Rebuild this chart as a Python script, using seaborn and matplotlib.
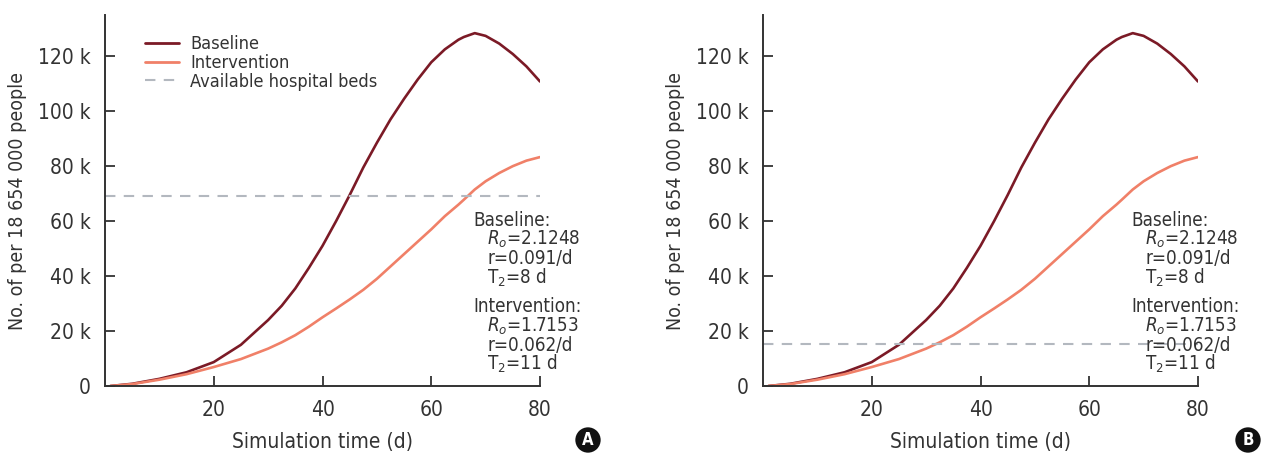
import numpy as np
import pandas as pd
import matplotlib
matplotlib.use("Agg")
import matplotlib.pyplot as plt
import seaborn as sns
from matplotlib.lines import Line2D
from matplotlib import font_manager

# ---- data (values in people) ----
days = [1, 5, 10, 15, 20, 25, 30, 32.5, 35, 37.5, 40, 42.5, 45, 47.5, 50, 52.5, 55,
        57.5, 60, 62.5, 65, 66, 68, 70, 72.5, 75, 77.5, 80]
baseline_k = [0, 0.8, 2.6, 5.0, 8.7, 15.0, 24.0, 29.2, 35.5, 43.0, 51.0, 60.0, 69.5,
              79.5, 88.5, 97.0, 104.5, 111.5, 117.8, 122.5, 126.0, 127.0, 128.4, 127.4,
              124.6, 120.8, 116.3, 110.8]
intervention_k = [0, 0.7, 2.3, 4.3, 6.9, 9.8, 13.6, 15.9, 18.5, 21.6, 25.0, 28.2, 31.5,
                  35.0, 39.0, 43.5, 48.0, 52.5, 57.0, 61.8, 66.0, 67.8, 71.5, 74.5,
                  77.5, 80.0, 82.0, 83.3]
beds = [69000, 15200]          # available hospital beds, panel A / B
panel_tags = ["A", "B"]
series_names = ["Baseline", "Intervention"]
y_ticks = [0, 20000, 40000, 60000, 80000, 100000, 120000]
y_tick_labels = ["0", "20 k", "40 k", "60 k", "80 k", "100 k", "120 k"]
x_ticks = [20, 40, 60, 80]
note_lines = [
    ("Baseline:", 0),
    (r"$\mathit{R_o}$=2.1248", 1),
    ("r=0.091/d", 1),
    (r"T$_2$=8 d", 1),
    ("Intervention:", 0),
    (r"$\mathit{R_o}$=1.7153", 1),
    ("r=0.062/d", 1),
    (r"T$_2$=11 d", 1),
]

df = pd.DataFrame({
    "day": days * 2,
    "value": [v * 1000 for v in baseline_k] + [v * 1000 for v in intervention_k],
    "scenario": [series_names[0]] * len(days) + [series_names[1]] * len(days),
})

# ---- style ----
sns.set_theme(style="ticks")
names = {f.name for f in font_manager.fontManager.ttflist}
fam = "Liberation Sans Narrow" if "Liberation Sans Narrow" in names else "DejaVu Sans"
plt.rcParams["font.family"] = [fam, "DejaVu Sans"]
plt.rcParams["font.stretch"] = "condensed"
plt.rcParams["mathtext.fontset"] = "custom"
plt.rcParams["mathtext.rm"] = fam + ":stretch=condensed"
plt.rcParams["mathtext.it"] = fam + ":italic:stretch=condensed"
TXT = "#333333"
palette = {"Baseline": "#7b1a26", "Intervention": "#f08068"}
BED_COLOR = "#b3b8bf"

fig = plt.figure(figsize=(12.66, 4.57), dpi=100)
lefts = [105 / 1266, 763 / 1266]
W, B, H = 435 / 1266, 71 / 457, 371 / 457

for i, left in enumerate(lefts):
    ax = fig.add_axes([left, B, W, H])
    sns.lineplot(data=df, x="day", y="value", hue="scenario", palette=palette,
                 linewidth=1.9, ax=ax, legend=False)
    ax.axhline(beds[i], color=BED_COLOR, lw=1.5, ls=(0, (5, 4)))
    ax.set_xlim(0, 80)
    ax.set_ylim(0, 135000)
    ax.set_xticks(x_ticks)
    ax.set_yticks(y_ticks)
    ax.set_yticklabels(y_tick_labels)
    ax.tick_params(direction="in", length=7, width=1.3, colors="#333333",
                   labelsize=15, labelcolor=TXT, pad=10)
    for s in ["top", "right"]:
        ax.spines[s].set_visible(False)
    for s in ["left", "bottom"]:
        ax.spines[s].set_color("#333333")
        ax.spines[s].set_linewidth(1.4)
    ax.set_xlabel("Simulation time (d)", fontsize=15, color=TXT, labelpad=9)
    ax.set_ylabel("No. of per 18 654 000 people", fontsize=14, color=TXT, labelpad=8)

    # parameter notes
    for k, (txt, indent) in enumerate(note_lines):
        extra = 0.028 if k >= 4 else 0
        ax.text(0.846 + 0.033 * indent, 0.447 - 0.0515 * k - extra, txt,
                transform=ax.transAxes, fontsize=13.5, color=TXT,
                ha="left", va="center")

    if i == 0:
        handles = [Line2D([], [], color=palette["Baseline"], lw=2),
                   Line2D([], [], color=palette["Intervention"], lw=2),
                   Line2D([], [], color=BED_COLOR, lw=1.5, ls=(0, (5, 4)))]
        ax.legend(handles, ["Baseline", "Intervention", "Available hospital beds"],
                  loc="upper left", bbox_to_anchor=(0.055, 0.99), frameon=False,
                  fontsize=13, handlelength=1.9, handletextpad=0.6,
                  labelspacing=0.05, labelcolor=TXT)

# panel badges
for tag, xc in zip(panel_tags, [588, 1248]):
    fig.text(xc / 1266, 1 - 440 / 457, tag, ha="center", va="center",
             fontsize=12, fontweight="bold", color="white",
             family="DejaVu Sans",
             bbox=dict(boxstyle="circle,pad=0.22", fc="#111111", ec="none"))

fig.savefig("out.png", dpi=100)
